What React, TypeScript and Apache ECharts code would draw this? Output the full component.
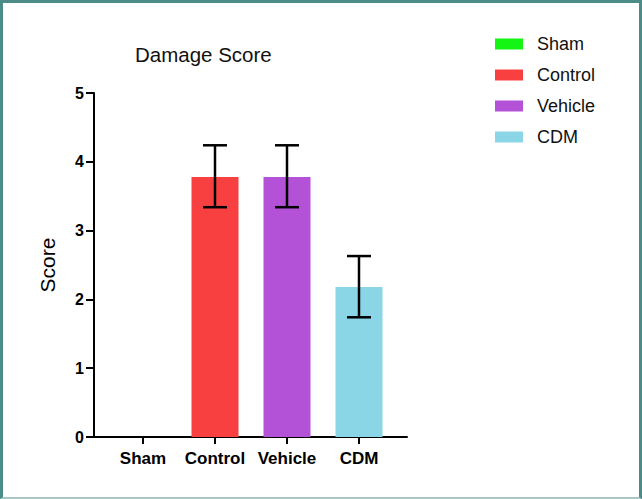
import React, { useEffect, useRef } from "react";
import * as echarts from "echarts";

const categories = ["Sham", "Control", "Vehicle", "CDM"];
const means = [0, 3.78, 3.78, 2.18];
const errLow = [0, 3.34, 3.34, 1.74];
const errHigh = [0, 4.24, 4.24, 2.63];
const colors = ["#14f514", "#f94040", "#b352d6", "#8ad5e6"];
const yTicks = [0, 1, 2, 3, 4, 5];

const FONT = "Liberation Sans, Arial, Helvetica, sans-serif";

export default function App() {
  const ref = useRef<HTMLDivElement>(null);
  useEffect(() => {
    document.body.style.margin = "0";
    const chart = echarts.init(ref.current!, null, { renderer: "svg" });
    const barSeries = categories.map((name, i) => ({
      name,
      type: "bar",
      xAxisIndex: 1,
      yAxisIndex: 1,
      barWidth: 47,
      barGap: "-100%",
      itemStyle: { color: colors[i] },
      data: categories.map((_, j) => (j === i ? means[i] : "-")),
      z: 2,
    }));
    const errData = categories
      .map((_, i) => [i, errLow[i], errHigh[i]])
      .filter((d) => d[2] > d[1]);
    chart.setOption({
      animation: false,
      backgroundColor: "#ffffff",
      title: {
        text: "Damage Score",
        left: 130,
        top: 39,
        textStyle: { fontFamily: FONT, fontSize: 20.5, fontWeight: "normal", color: "#111" },
      },
      legend: {
        orient: "vertical",
        left: 490,
        top: 30,
        itemWidth: 28,
        itemHeight: 11,
        itemGap: 13,
        icon: "rect",
        data: categories,
        textStyle: { fontFamily: FONT, fontSize: 18, color: "#111", padding: [0, 0, 0, 9] },
      },
      grid: [
        { left: 94, right: 235, top: 93, bottom: 62 },
        { left: 107, right: 247, top: 93, bottom: 62 },
      ],
      xAxis: [
        {
          type: "value",
          gridIndex: 0,
          min: 0,
          max: 1,
          axisLine: { show: true, lineStyle: { color: "#000", width: 2 } },
          axisTick: { show: false },
          axisLabel: { show: false },
          splitLine: { show: false },
        },
        {
          type: "category",
          gridIndex: 1,
          data: categories,
          axisLine: { show: false },
          axisTick: { show: true, alignWithLabel: true, length: 7, lineStyle: { color: "#000", width: 2 } },
          axisLabel: {
            interval: 0,
            hideOverlap: false,
            fontFamily: FONT,
            fontSize: 17,
            fontWeight: "bold",
            color: "#000",
            margin: 13,
          },
        },
      ],
      yAxis: [
        {
          type: "value",
          gridIndex: 0,
          min: 0,
          max: 5,
          interval: 1,
          name: "Score",
          nameLocation: "middle",
          nameGap: 36,
          nameTextStyle: { fontFamily: FONT, fontSize: 21, color: "#000" },
          axisLine: { show: true, lineStyle: { color: "#000", width: 2 } },
          axisTick: { show: true, inside: false, length: 8, lineStyle: { color: "#000", width: 2 } },
          axisLabel: {
            fontFamily: FONT,
            fontSize: 16,
            fontWeight: "bold",
            color: "#000",
            margin: 10,
            formatter: (v: number) => (yTicks.includes(v) ? String(v) : ""),
          },
          splitLine: { show: false },
        },
        {
          type: "value",
          gridIndex: 1,
          min: 0,
          max: 5,
          interval: 1,
          show: false,
          splitLine: { show: false },
        },
      ],
      series: [
        ...barSeries,
        {
          type: "custom",
          name: "err",
          xAxisIndex: 1,
          yAxisIndex: 1,
          z: 5,
          data: errData,
          renderItem: (params: any, api: any) => {
            const x = api.value(0);
            const lo = api.coord([x, api.value(1)]);
            const hi = api.coord([x, api.value(2)]);
            const half = 12;
            const style = { stroke: "#000", lineWidth: 2.5 };
            return {
              type: "group",
              children: [
                { type: "line", shape: { x1: lo[0], y1: lo[1], x2: hi[0], y2: hi[1] }, style },
                { type: "line", shape: { x1: hi[0] - half, y1: hi[1], x2: hi[0] + half, y2: hi[1] }, style },
                { type: "line", shape: { x1: lo[0] - half, y1: lo[1], x2: lo[0] + half, y2: lo[1] }, style },
              ],
            };
          },
        },
      ],
    });
    return () => chart.dispose();
  }, []);
  return (
    <div style={{ position: "relative", width: 642, height: 499 }}>
      <div ref={ref} style={{ width: 642, height: 499 }} />
      <div
        style={{
          position: "absolute",
          left: 0,
          top: 0,
          width: 642,
          height: 499,
          boxSizing: "border-box",
          borderTop: "3px solid #4b8b88",
          borderLeft: "3px solid #4b8b88",
          borderRight: "3px solid #4b8b88",
          borderBottom: "2px solid #a9c6c6",
          pointerEvents: "none",
        }}
      />
    </div>
  );
}
